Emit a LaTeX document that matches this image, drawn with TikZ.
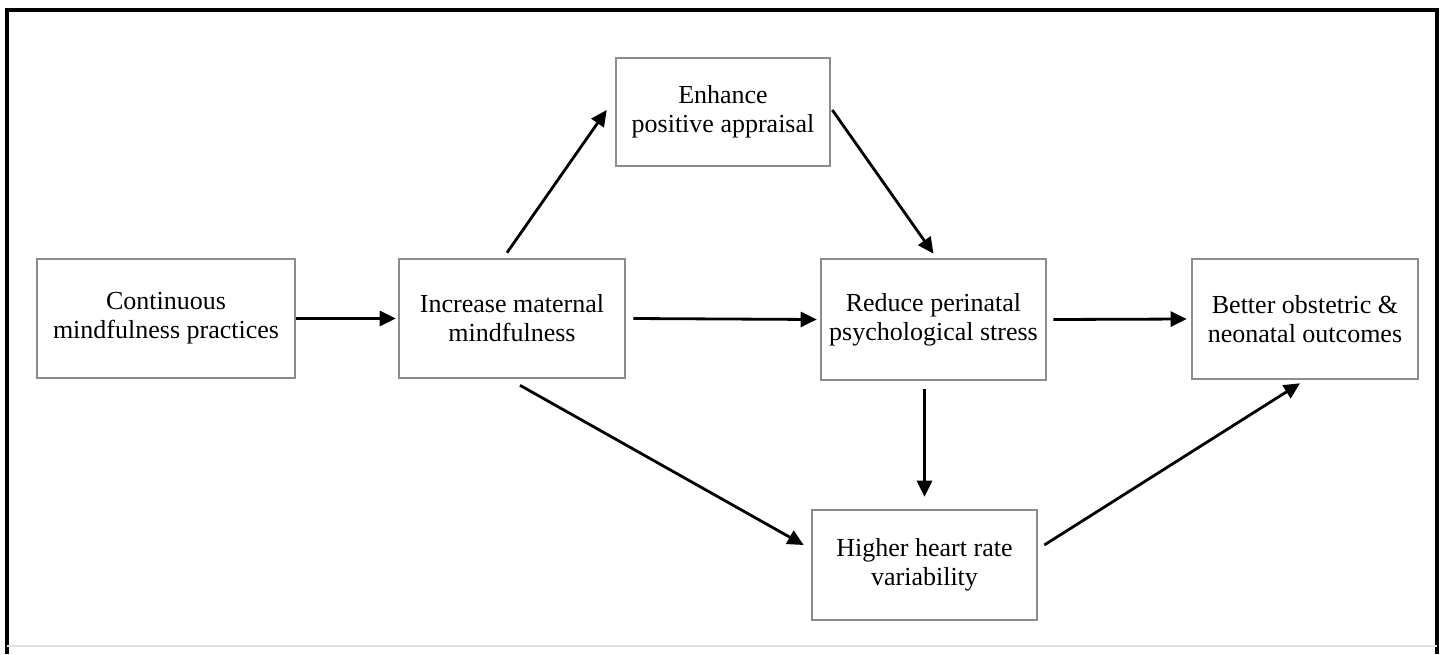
\documentclass[tikz,border=0pt]{standalone}
\usepackage{fontspec}
\setmainfont{Liberation Serif}
\usetikzlibrary{calc,arrows.meta}
\begin{document}
\begin{tikzpicture}[x=0.5pt,y=-0.5pt,
  box/.style={draw=black!45,line width=1.3pt,fill=white,rectangle,align=center,inner sep=0pt,
    font=\fontsize{13pt}{14.5pt}\selectfont},
  arr/.style={draw=black,line width=1.4pt,-{Triangle[length=8pt,width=7.5pt]}}]
\useasboundingbox (0,0) rectangle (1440,654);
% outer frame
\draw[black,line width=1.6pt] (7,654) -- (7,10) -- (1437,10) -- (1437,654);
\draw[black!12,line width=1pt] (7,646) -- (1437,646);
% nodes
\node[box,minimum width=129pt,minimum height=59.5pt] (con) at (166,318.5) {Continuous\\mindfulness practices};
\node[box,minimum width=113pt,minimum height=59.5pt] (inc) at (512,318.5) {Increase maternal\\mindfulness};
\node[box,minimum width=107pt,minimum height=54pt] (enh) at (723,112) {Enhance\\positive appraisal};
\node[box,minimum width=112.5pt,minimum height=60.5pt] (red) at (933.5,319.5) {Reduce perinatal\\psychological stress};
\node[box,minimum width=113pt,minimum height=60pt] (bet) at (1305,319) {Better obstetric \&\\neonatal outcomes};
\node[box,minimum width=112.5pt,minimum height=55pt] (hrv) at (924.5,565) {Higher heart rate\\variability};
% connectors
\draw[arr] (con.east) -- ($(inc.west)+(-2,0)$);
\draw[arr] ($(inc.east)+(7,0)$) -- ($(red.west)+(-3,0)$);
\draw[arr] ($(red.east)+(6,0)$) -- ($(bet.west)+(-4,0)$);
\draw[arr] ($(inc.north)+(-5,-5)$) -- ($(enh.west)+(-8,-2)$);
\draw[arr] ($(enh.east)+(1,-2)$) -- ($(red.north)+(0,-4)$);
\draw[arr] ($(hrv.north |- red.south)+(0,8)$) -- ($(hrv.north)+(0,-12)$);
\draw[arr] ($(inc.south)+(8,6)$) -- ($(hrv.west)+(-7,-20)$);
\draw[arr] ($(hrv.east)+(6,-20)$) -- ($(bet.south)+(-5,3)$);
\end{tikzpicture}
\end{document}
